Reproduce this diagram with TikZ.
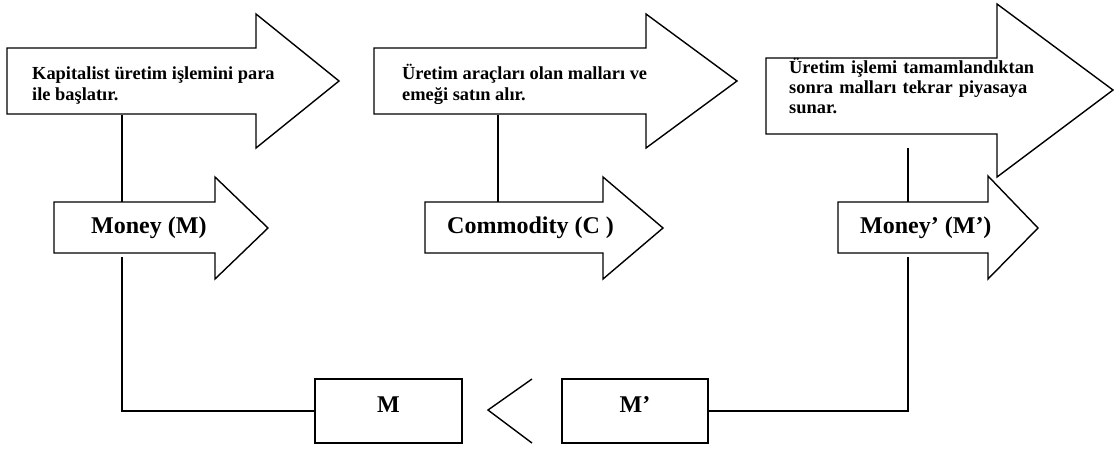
\documentclass[tikz,border=0pt]{standalone}
\usepackage{fontspec}
\setmainfont{Liberation Serif}
\begin{document}
\begin{tikzpicture}[x=1pt,y=-1pt,
  arrowshape/.style={draw=black, fill=white, line width=1.4pt, line join=miter},
  conn/.style={draw=black, line width=1.4pt},
  bigtxt/.style={anchor=base west, inner sep=0pt, font=\bfseries\fontsize{18.4}{21}\selectfont, align=left},
  lbl/.style={anchor=west, inner sep=0pt, font=\bfseries\fontsize{24}{28}\selectfont},
  mbox/.style={draw=black, line width=1.4pt, minimum height=64pt, inner sep=0pt, text height=12pt, text depth=10pt, font=\bfseries\fontsize{24}{28}\selectfont}]
\useasboundingbox (0,0) rectangle (1117,450);
% big arrows
\draw[arrowshape] (7,48) -- (256,48) -- (256,14) -- (339,81) -- (256,148) -- (256,114) -- (7,114) -- cycle;
\draw[arrowshape] (374,48) -- (646,48) -- (646,14) -- (737,81) -- (646,148) -- (646,114) -- (374,114) -- cycle;
\draw[arrowshape] (766,58) -- (997,58) -- (997,4) -- (1113,90) -- (997,177) -- (997,134) -- (766,134) -- cycle;
% small arrows
\draw[arrowshape] (54,202) -- (215,202) -- (215,177) -- (268,228) -- (215,279) -- (215,253) -- (54,253) -- cycle;
\draw[arrowshape] (425,202) -- (603,202) -- (603,177) -- (663,228) -- (603,279) -- (603,253) -- (425,253) -- cycle;
\draw[arrowshape] (838,202) -- (988,202) -- (988,176) -- (1038,228) -- (988,279) -- (988,253) -- (838,253) -- cycle;
% texts on big arrows
\node[bigtxt] (t1) at (32,100) {Kapitalist üretim işlemini para\\ile başlatır.};
\node[bigtxt] (t2) at (402,100) {Üretim araçları olan malları ve\\emeği satın alır.};
\node[bigtxt, text width=246pt, font=\bfseries\fontsize{18.4}{20}\selectfont] (t3) at (789,73) {\makebox[246pt][s]{Üretim işlemi tamamlandıktan}\\\makebox[246pt][s]{sonra malları tekrar piyasaya}\\sunar.};
% labels on small arrows
\node[lbl] (money) at (91,228) {Money (M)};
\node[lbl] (comm) at (447,228) {Commodity (C )};
\node[lbl] (moneyp) at (860,228) {Money’ (M’)};
% lower boxes
\node[mbox, minimum width=147pt] (boxM) at (388.5,411) {M};
\node[mbox, minimum width=146pt] (boxMp) at (635,411) {M’};
% connection points
\coordinate (a1b) at (122,115);
\coordinate (m1t) at (122,202);
\coordinate (a2b) at (498,115);
\coordinate (c1t) at (498,202);
\coordinate (a3b) at (908,148);
\coordinate (m2t) at (908,202);
\coordinate (m1b) at (122,257);
\coordinate (m2b) at (908,257);
\draw[conn] (a1b) -- (m1t);
\draw[conn] (a2b) -- (c1t);
\draw[conn] (a3b) -- (m2t);
\draw[conn] (m1b) |- (boxM.west);
\draw[conn] (boxMp.east) -| (m2b);
% chevron
\coordinate (chT) at (532,379);
\coordinate (chV) at (488,410);
\coordinate (chB) at (532,443);
\draw[conn] (chT) -- (chV) -- (chB);
\end{tikzpicture}
\end{document}
